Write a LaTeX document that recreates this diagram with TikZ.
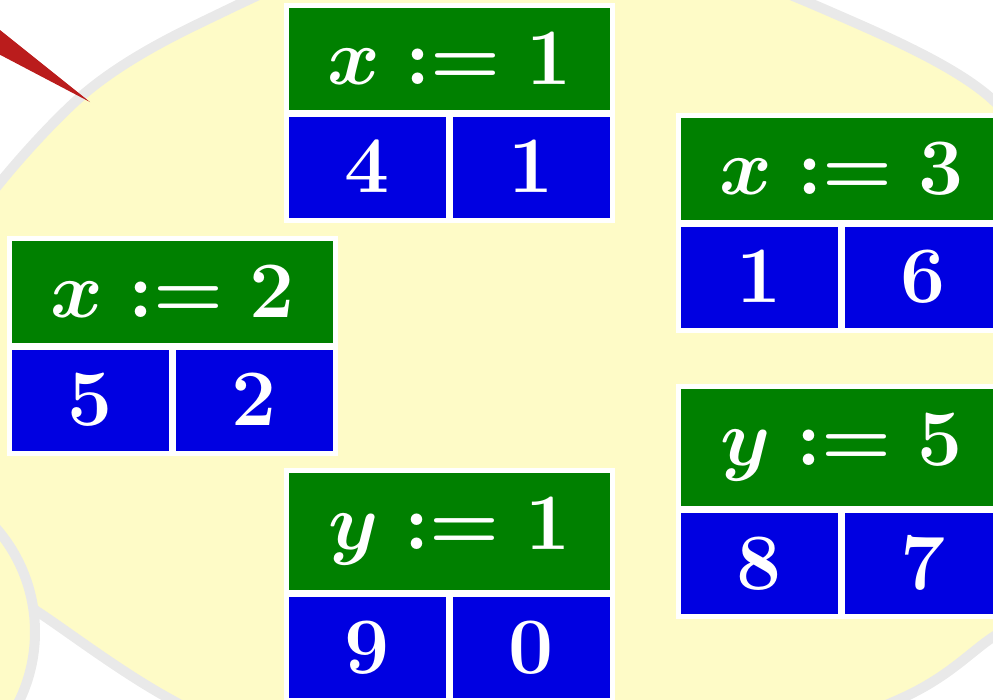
\documentclass[tikz,border=0pt]{standalone}
\usepackage{graphicx}
\usepackage{tikz}
\usetikzlibrary{positioning}
\definecolor{headgreen}{RGB}{0,128,0}
\definecolor{cellblue}{RGB}{0,0,225}
\definecolor{cloudfill}{RGB}{254,251,199}
\definecolor{cloudline}{RGB}{233,233,233}
\definecolor{wedgered}{RGB}{186,28,28}
\newcommand{\cellnum}[1]{\scalebox{3.86}{$#1$}}

\begin{document}
\begin{tikzpicture}[x=1pt,y=-1pt,
    bignum/.style={font=\fontsize{20.74}{25}\selectfont\boldmath},
    head/.style={bignum,fill=headgreen,draw=white,line width=5pt,text=white,
      minimum width=326pt,minimum height=106pt,inner xsep=0pt,inner ysep=27.5pt,outer sep=0pt},
    cell/.style={bignum,fill=cellblue,draw=white,line width=5pt,text=white,
      minimum width=162pt,minimum height=106pt,inner sep=0pt,outer sep=0pt},
    puff/.style={fill=cloudfill,draw=cloudline,line width=10pt}]
    \useasboundingbox (0,0) rectangle (993,699);
    \clip (0,0) rectangle (993,699);
    % cloud
    \draw[puff] plot[smooth cycle] coordinates {(77,100) (200,23) (410,-60) (650,-50)
      (833,13) (993,100) (1100,260) (1130,430) (1070,585) (993,637) (900,699)
      (650,790) (400,810) (170,699) (35,610) (-45,560) (-80,400) (-40,240)};
    \draw[puff] (-123,632) circle (158pt);
    \fill[wedgered] (-30,6) -- (90,102) -- (-30,39) -- cycle;
    % boxes
    \foreach \n/\px/\py/\lab/\l/\r in {1/286.5/5.5/x:=1/4/1, 2/9.5/238.5/x:=2/5/2,
        3/678.5/115.5/x:=3/1/6, 4/678.5/386.5/y:=5/8/7, 5/286.5/470.5/y:=1/9/0}{
      \node[head,anchor=north west] (h\n) at (\px,\py) {\cellnum{\lab}};
      \node[cell,below right=2pt and 0pt of h\n.south west] (a\n) {\cellnum{\l}};
      \node[cell,right=2pt of a\n] (b\n) {\cellnum{\r}};
    }
\end{tikzpicture}
\end{document}
